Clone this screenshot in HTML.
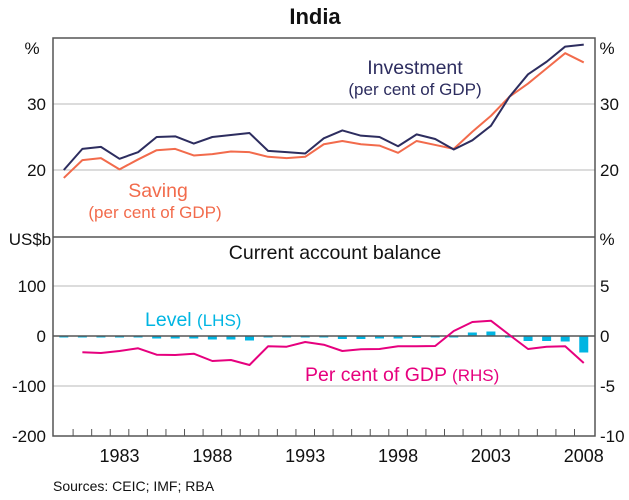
<!DOCTYPE html>
<html><head><meta charset="utf-8"><style>
body{margin:0;background:#fff}
svg{font-family:"Liberation Sans",Arial,sans-serif}
</style></head><body>
<svg id="c" width="629" height="495" viewBox="0 0 629 495"></svg>
<script>
const years=[1980,1981,1982,1983,1984,1985,1986,1987,1988,1989,1990,1991,1992,1993,1994,1995,1996,1997,1998,1999,2000,2001,2002,2003,2004,2005,2006,2007,2008];
const investment=[20.0,23.2,23.5,21.7,22.7,25.0,25.1,24.0,25.0,25.3,25.6,22.9,22.7,22.5,24.8,26.0,25.2,25.0,23.6,25.4,24.7,23.1,24.5,26.7,31.1,34.5,36.4,38.7,39.0];
const saving=[18.8,21.5,21.8,20.1,21.6,23.0,23.2,22.2,22.4,22.8,22.7,22.0,21.8,22.0,23.9,24.4,23.9,23.7,22.6,24.4,23.8,23.2,25.8,28.2,31.1,33.1,35.4,37.7,36.3];
const caYears=[1981,1982,1983,1984,1985,1986,1987,1988,1989,1990,1991,1992,1993,1994,1995,1996,1997,1998,1999,2000,2001,2002,2003,2004,2005,2006,2007,2008];
const caPct=[-1.63,-1.7,-1.5,-1.23,-1.87,-1.9,-1.77,-2.5,-2.4,-2.9,-1.03,-1.07,-0.6,-0.87,-1.5,-1.33,-1.3,-1.03,-1.03,-1.0,0.5,1.4,1.53,0.1,-1.3,-1.07,-1.03,-2.7];
const caLevel=[-2,-2,-3,-3,-3,-5,-5,-5,-7,-7,-9,-3,-3,-3,-3,-6,-6,-5,-5,-4,-3,-1,7,9,-1,-10,-10,-11,-33];
const topTicks=[20,30];
const lhsTicks=[100,0,-100,-200];
const rhsTicks=[5,0,-5,-10];
const xLabels=[1983,1988,1993,1998,2003,2008];

const L=53,R=595;
const x=y=>63.8+(y-1980)*18.57;
const yTop=v=>38+(40-v)*6.6;
const yL=v=>336-v*0.5;
const yR=v=>336-v*10;
const svg=document.getElementById('c');
const NS='http://www.w3.org/2000/svg';
function mk(tag,attrs,parent){const e=document.createElementNS(NS,tag);for(const k in attrs)e.setAttribute(k,attrs[k]);(parent||svg).appendChild(e);return e;}
function txt(s,attrs){const e=mk('text',attrs);e.textContent=s;return e;}

topTicks.forEach(v=>{const g=mk('line',{x1:L,x2:R,y1:yTop(v),y2:yTop(v),stroke:'#b8b8b8','stroke-width':1});

});
[100,-100].forEach(v=>{const g=mk('line',{x1:L,x2:R,y1:yL(v),y2:yL(v),stroke:'#b8b8b8','stroke-width':1});

});

caLevel.forEach((v,i)=>{const y0=yL(0),y1=yL(v);const b=mk('rect',{x:x(years[i])-4.5,width:9,y:Math.min(y0,y1),height:Math.max(Math.abs(y1-y0),1.5),fill:'#00b5e2'});

});
const z=mk('line',{x1:L,x2:R,y1:yL(0),y2:yL(0),stroke:'#555','stroke-width':1.5});



function line(xs,vs,fy,col,name){const p=mk('polyline',{points:vs.map((v,i)=>x(xs[i])+','+fy(v)).join(' '),fill:'none',stroke:col,'stroke-width':2,'stroke-linejoin':'round'});

}
line(years,saving,yTop,'#f26b4c','saving-line');
line(years,investment,yTop,'#2d2d5f','investment-line');
line(caYears,caPct,yR,'#e6007e','ca-pct-line');

const f=mk('rect',{x:L,y:38,width:R-L,height:398,fill:'none',stroke:'#555','stroke-width':1.5});


const d=mk('line',{x1:L,x2:R,y1:237,y2:237,stroke:'#555','stroke-width':1.5});


for(let yr=1980;yr<2008;yr++){const t=mk('line',{x1:x(yr)+9.3,x2:x(yr)+9.3,y1:436,y2:429,stroke:'#555','stroke-width':1});

}

const fs={'font-size':17,fill:'#111'};
function label(s,px,py,anchor,name,extra){const e=txt(s,Object.assign({x:px,y:py,'text-anchor':anchor},fs,extra||{}));

return e;}
topTicks.forEach(v=>{label(String(v),46,yTop(v)+6,'end','top-left-tick');label(String(v),600,yTop(v)+6,'start','top-right-tick');});
lhsTicks.forEach(v=>label(String(v),46,yL(v)+6,'end','lhs-tick'));
rhsTicks.forEach(v=>label(String(v),600,yR(v)+6,'start','rhs-tick'));
xLabels.forEach(v=>label(String(v),x(v),462,'middle','x-label',{'font-size':18}));
label('%',32,54,'middle','top-left-unit');
label('%',607,54,'middle','top-right-unit');
label('US$b',30,245,'middle','bottom-left-unit');
label('%',607,245,'middle','bottom-right-unit');
label('India',315,24,'middle','chart-title',{'font-size':22,'font-weight':'bold'});
label('Current account balance',335,259,'middle','panel-title',{'font-size':19.5});
label('Investment',415,74,'middle','investment-label',{fill:'#2d2d5f','font-size':19.5});
label('(per cent of GDP)',415,95,'middle','investment-sublabel',{fill:'#2d2d5f','font-size':17});
label('Saving',158,197,'middle','saving-label',{fill:'#f26b4c','font-size':19.5});
label('(per cent of GDP)',155,218,'middle','saving-sublabel',{fill:'#f26b4c','font-size':17});
const lv=label('Level ',145,326,'start','level-label',{fill:'#00b5e2','font-size':19.5});
const t1=mk('tspan',{'font-size':17},lv);t1.textContent='(LHS)';
const pc=label('Per cent of GDP ',305,381,'start','ca-pct-label',{fill:'#e6007e','font-size':19.5});
const t2=mk('tspan',{'font-size':17},pc);t2.textContent='(RHS)';
label('Sources: CEIC; IMF; RBA',53,491,'start','sources-note',{'font-size':14});
</script>
</body></html>
